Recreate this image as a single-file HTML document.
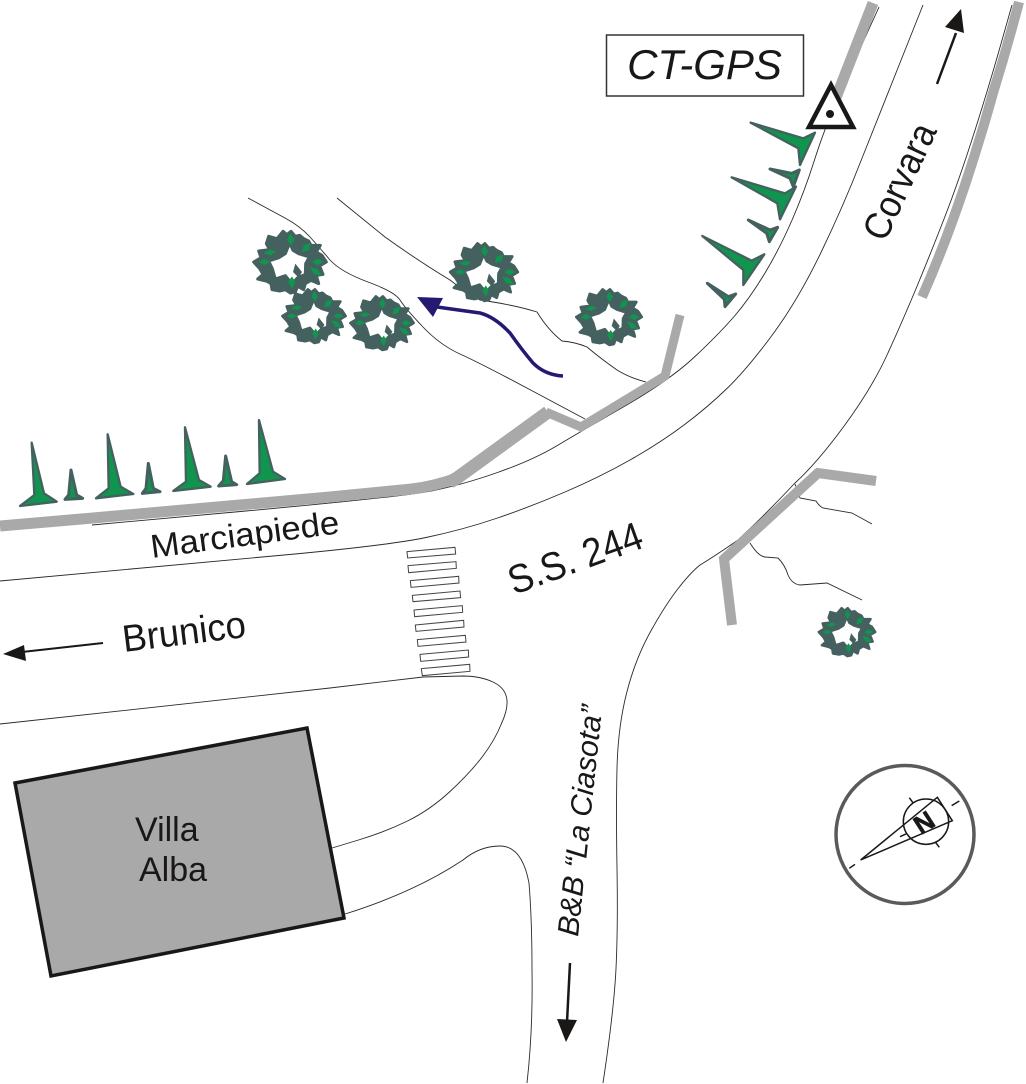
<!DOCTYPE html>
<html>
<head>
<meta charset="utf-8">
<title>Map</title>
<style>
html,body{margin:0;padding:0;background:#fff}
svg{display:block}
text{font-family:"Liberation Sans",sans-serif;fill:#1a1717}
</style>
</head>
<body>
<svg width="1026" height="1084" viewBox="0 0 1026 1084" xmlns="http://www.w3.org/2000/svg">
<defs>
<g id="tree" transform="scale(.3333) translate(-149,-185)">
<path fill-rule="evenodd" fill="#45615f" stroke="#45615f" stroke-width="9" stroke-linejoin="round" d="M128,93 L140,103 L152,93 L165,108 L178,105 L190,115 L205,122 L212,135 L240,135 L228,155 L245,165 L258,185 L238,197 L248,222 L228,225 L235,250 L212,240 L195,250 L190,268 L172,258 L165,275 L150,278 L135,268 L118,272 L95,268 L92,250 L80,243 L52,236 L68,222 L58,205 L40,185 L62,172 L55,152 L88,148 L78,130 L85,108 L110,115Z M148,128 L158,150 L175,160 L207,170 L196,190 L195,222 L172,232 L155,250 L135,226 L105,236 L96,205 L85,182 L116,172 L135,160Z"/>
<path fill="#45615f" d="M165,190 L185,215 L175,232 L158,215Z"/>
<path fill="#10954f" d="M150,100 L162,118 L152,135 L140,118Z M212,128 L205,150 L185,155 L190,135Z M250,185 L232,195 L215,185 L232,175Z M245,225 L222,222 L208,200 L230,205Z M155,228 L165,245 L155,265 L143,245Z M70,158 L90,148 L108,155 L90,165Z M55,185 L72,176 L90,185 L72,194Z"/>
</g>
</defs>

<!-- thin road lines -->
<g fill="none" stroke="#2a2a2a" stroke-width="0.9">
<path d="M92,525 L246,511 Q400,497 431,491 Q462,485 497.500,472.500 Q533,460 556.500,446 Q580,432 625,406 Q670,380 695,356.500 Q720,333 735,315.500 Q750,298 765,273 Q780,248 792.500,219 Q805,190 814,161.500 Q823,133 836.500,100.500 L879,7"/>
<path d="M0,581 L295,554 Q390,545 426,537.500 Q462,530 496,518.500 Q530,507 565,492 Q600,477 630,460 Q660,443 684,425 Q708,407 728,387.500 Q748,368 773,334 Q798,300 820.500,253.500 Q843,207 861.500,159.500 L923,5"/>
<path d="M1012,5 L999.500,49 Q987,93 972.500,138 Q958,183 944,219 Q930,255 916.500,287.500 Q903,320 887.500,354 Q872,388 844.500,425.500 Q817,463 795,483 Q765,515 738,540 Q715,556 700,565 Q690,573 677,590 Q664,607 649.500,633.500 Q635,660 626.500,693.500 Q618,727 617,768.500 Q616,810 617,868.500 Q618,927 616,968.500 Q614,1010 603,1083"/>
<path d="M527,1083 Q533,1030 532,970 Q532,920 529,883 Q522,846 500,846 Q480,846 463,860 Q415,892 345,914"/>
<path d="M332,848 L358.500,840 Q385,832 407.500,821 Q430,810 450,791.500 Q470,773 482.500,756.500 Q495,740 501.500,723.500 C510,705 510,690 493,682 Q480,676 463,676 L423,677 L330,688 L0,724"/>
<path d="M248,198 L285,218 Q300,226 310,237 Q320,248 330,260 Q341,272 368,282 Q395,292 400,300 Q405,308 422.500,326.500 Q440,345 460,354 Q480,363 532.500,391 L585,419"/>
<path d="M337,198 L385,237 Q420,262 450,280 Q465,292 480,300 Q515,305 537,312 Q548,330 562,341 Q575,342 587,347 Q600,358 617,370 Q630,378 646,382"/>
<path d="M795,484 Q798,492 800,498 L816,501 Q819,506 823,508 L852,513 L872,524"/>
<path d="M750,543 Q758,556 765,557 L778,558 Q785,565 788,575 Q792,584 800,585 L827,583 L862,600"/>
</g>

<!-- gray kerbs -->
<g fill="none" stroke="#a9a9a9" stroke-linejoin="miter">
<path d="M0,526 L93,518 L330,497 L412,489 Q435,486 457,478" stroke-width="11"/>
<path d="M450,482 L457,478 L548,412" stroke-width="13"/>
<path d="M546,412 L581,427 L665,376 L680,315" stroke-width="9"/>
<path d="M873,3 L830,113" stroke-width="11"/>
<path d="M1019,2 Q1007,48 993,93 Q980,140 965,185 Q945,245 922,297" stroke-width="10"/>
<path d="M876,481 L818,473 L724,559 L732,625" stroke-width="10"/>
</g>

<!-- crosswalk -->
<g transform="translate(390,530) scale(.3333)" fill="#fff" stroke="#444" stroke-width="3">
<polygon points="51,65 195,52 197,72 53,84"/>
<polygon points="54,107 198,95 199,115 56,128"/>
<polygon points="61,152 206,139 207,159 63,172"/>
<polygon points="67,196 210,183 212,203 69,215"/>
<polygon points="72,240 217,227 218,247 74,260"/>
<polygon points="76,285 221,271 222,291 78,304"/>
<polygon points="82,329 226,316 228,336 84,349"/>
<polygon points="90,373 235,360 236,381 92,394"/>
<polygon points="94,416 239,403 240,424 97,437"/>
</g>

<!-- building -->
<polygon points="15,783 307,728 344,918 51,976" fill="#a9a9a9" stroke="#1a1717" stroke-width="3.500"/>
<text x="135" y="841" font-size="34">Villa</text>
<text x="139" y="881" font-size="34">Alba</text>

<!-- leafy trees -->
<use href="#tree" transform="translate(290,262)"/>
<use href="#tree" transform="translate(314,316) scale(.87)"/>
<use href="#tree" transform="translate(382,323) scale(.87)"/>
<use href="#tree" transform="translate(484,272) scale(.93)"/>
<use href="#tree" transform="translate(609,317) scale(.9)"/>
<use href="#tree" transform="translate(847,632) scale(.78)"/>

<!-- conifers right -->
<g transform="translate(690,70) scale(.3333)" fill="#10954f" stroke="#45615f" stroke-width="7" stroke-linejoin="round">
<polygon points="182,158 340,205 375,188 330,285 325,235"/>
<polygon points="240,297 305,310 328,300 310,350 300,325" stroke-width="9"/>
<polygon points="125,322 285,370 318,350 270,448 262,400"/>
<polygon points="175,450 240,480 263,472 238,515 230,490" stroke-width="9"/>
<polygon points="37,498 185,572 223,553 160,645 160,600"/>
<polygon points="52,640 115,680 137,672 105,710 103,688" stroke-width="9"/>
</g>

<!-- conifers left -->
<g transform="translate(0,410) scale(.3333)" fill="#10954f" stroke="#45615f" stroke-width="7" stroke-linejoin="round">
<polygon points="95,98 132,250 170,275 60,288 103,255"/>
<polygon points="213,180 230,255 248,265 195,268 206,255" stroke-width="9"/>
<polygon points="323,73 362,230 400,252 288,265 326,235"/>
<polygon points="445,160 460,235 480,245 427,250 438,235" stroke-width="9"/>
<polygon points="555,52 597,210 632,230 520,243 558,215"/>
<polygon points="677,138 695,215 710,224 656,228 670,212" stroke-width="9"/>
<polygon points="777,30 819,185 855,207 741,222 779,190"/>
</g>

<!-- blue arrow -->
<path d="M563,376 Q545,375 533,363 Q522,350 510,333 Q495,317 480,313 L437,307" fill="none" stroke="#241a72" stroke-width="3.500"/>
<polygon points="417,297 443,298 433,317" fill="#241a72"/>

<!-- triangle marker -->
<polygon points="831,85 809,127 853,127" fill="#fff" stroke="#1a1717" stroke-width="4.500"/>
<circle cx="830" cy="114" r="4" fill="#1a1717"/>

<!-- CT-GPS -->
<rect x="606.500" y="35" width="197" height="61" fill="#fff" stroke="#333" stroke-width="1.500"/>
<text x="704.500" y="79" font-size="42" font-style="italic" text-anchor="middle">CT-GPS</text>

<!-- arrows -->
<g fill="#1a1717" stroke="none">
<path d="M937,84 L956,33" stroke="#1a1717" stroke-width="2.500"/>
<polygon points="961,9 945,27 964,33"/>
<path d="M103,643 L22,652" stroke="#1a1717" stroke-width="2"/>
<polygon points="3,654 24,645 26,661"/>
<path d="M570,963 L567,1022" stroke="#1a1717" stroke-width="2.500"/>
<polygon points="566,1042 557,1019 577,1020"/>
</g>

<!-- labels -->
<text transform="translate(152,558) rotate(-7.500)" font-size="33" textLength="190" lengthAdjust="spacingAndGlyphs">Marciapiede</text>
<text transform="translate(514,595) rotate(-20)" font-size="40" textLength="140" lengthAdjust="spacingAndGlyphs">S.S. 244</text>
<text transform="translate(124,652) rotate(-7)" font-size="38" textLength="124" lengthAdjust="spacingAndGlyphs">Brunico</text>
<text transform="translate(885,243) rotate(-65)" font-size="38" textLength="124" lengthAdjust="spacingAndGlyphs">Corvara</text>
<text transform="translate(578,937) rotate(-84)" font-size="30" font-style="italic" textLength="232" lengthAdjust="spacingAndGlyphs">B&amp;B “La Ciasota”</text>

<!-- compass -->
<circle cx="905" cy="834.500" r="69" fill="none" stroke="#5a5a5a" stroke-width="3.500"/>
<g transform="translate(820,750) scale(.3333)" fill="none" stroke="#1a1717" stroke-width="4.500">
<circle cx="318" cy="215" r="68"/>
<path d="M352,142 L397,212 L122,330 Z"/>
<path d="M88,355 L105,343 M395,167 L418,153 M268,143 L280,160 M345,275 L358,292 M240,260 L258,252"/>
</g>
<text transform="translate(929,830) rotate(-33)" font-size="26" font-weight="bold" text-anchor="middle" style="fill:#1a1717;stroke:#1a1717;stroke-width:.6">N</text>
</svg>
</body>
</html>
